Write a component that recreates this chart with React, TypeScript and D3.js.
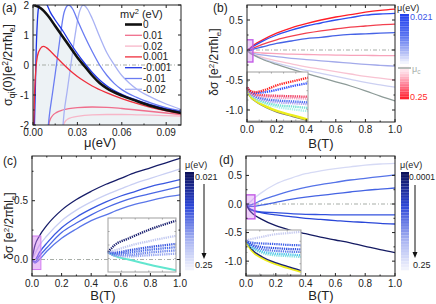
import React from 'react';
import * as d3 from 'd3';

const FONT = "'Liberation Sans', Arial, Helvetica, sans-serif";

// ---------- (a) sigma_qi(0) against mu, one curve per mv^2 ----------
const legendA = ['0', '0.01', '0.02', '0.001', '-0.001', '-0.01', '-0.02'];
const colorsA = ['#111111', '#f06e8c', '#f7b6c8', '#ef2f3c', '#1f35e6', '#6a7cf2', '#a9b2f4'];

const muZero = [0, 0.005, 0.01, 0.015, 0.02, 0.025, 0.03, 0.035, 0.04, 0.045, 0.05, 0.06, 0.07, 0.08, 0.09, 0.1];
const sigZero = [2, 1.9, 1.65, 1.3, 0.95, 0.6, 0.25, -0.05, -0.35, -0.6, -0.78, -1.02, -1.2, -1.37, -1.5, -1.6];

const muP01 = [0.0103, 0.011, 0.013, 0.016, 0.02, 0.03, 0.04, 0.05, 0.06, 0.07, 0.08, 0.09, 0.1];
const sigP01 = [-2.3, -1.9, -1.7, -1.58, -1.5, -1.42, -1.4, -1.41, -1.45, -1.5, -1.55, -1.6, -1.65];

const muP02 = [0.0203, 0.021, 0.023, 0.026, 0.03, 0.04, 0.05, 0.06, 0.07, 0.08, 0.09, 0.1];
const sigP02 = [-2.3, -1.95, -1.82, -1.75, -1.71, -1.66, -1.65, -1.65, -1.66, -1.67, -1.69, -1.7];

const muP001 = [0.0003, 0.001, 0.002, 0.003, 0.005, 0.007, 0.009, 0.012, 0.015, 0.02, 0.025, 0.03, 0.035, 0.04, 0.05, 0.06, 0.07, 0.08, 0.09, 0.1];
const sigP001 = [-2.3, -1.0, -0.1, 0.3, 0.55, 0.62, 0.58, 0.45, 0.3, 0.05, -0.18, -0.38, -0.55, -0.7, -0.93, -1.12, -1.28, -1.42, -1.53, -1.62];

const muM001 = [0.0008, 0.0015, 0.002, 0.003, 0.004, 0.006, 0.008, 0.01, 0.0115, 0.015, 0.02, 0.025, 0.03, 0.035, 0.04, 0.045, 0.05, 0.06, 0.07, 0.08, 0.09, 0.1];
const sigM001 = [-2.3, -1.0, 0.2, 1.5, 2.0, 2.25, 2.15, 1.95, 1.78, 1.5, 1.15, 0.75, 0.38, 0.05, -0.25, -0.5, -0.7, -0.98, -1.17, -1.33, -1.46, -1.56];

const muM01 = [0.0098, 0.011, 0.013, 0.015, 0.018, 0.021, 0.024, 0.027, 0.03, 0.035, 0.04, 0.045, 0.05, 0.055, 0.06, 0.07, 0.08, 0.09, 0.1];
const sigM01 = [-2.3, -1.7, -1.0, -0.3, 0.8, 1.75, 2.0, 1.85, 1.5, 0.95, 0.45, 0.0, -0.35, -0.62, -0.82, -1.08, -1.27, -1.42, -1.53];

const muM02 = [0.0198, 0.021, 0.023, 0.025, 0.028, 0.031, 0.034, 0.037, 0.04, 0.045, 0.05, 0.055, 0.06, 0.065, 0.07, 0.08, 0.09, 0.1];
const sigM02 = [-2.3, -1.6, -0.9, -0.2, 0.85, 1.7, 2.0, 1.85, 1.55, 0.95, 0.4, 0.0, -0.35, -0.6, -0.8, -1.08, -1.3, -1.48];

// ---------- (b),(c),(d) delta sigma against B ----------
const bGrid = [0, 0.02, 0.05, 0.1, 0.2, 0.3, 0.4, 0.5, 0.6, 0.7, 0.8, 0.9, 1.0];

const colorsB = ['#ff1e28', '#2f4ff0', '#f2404f', '#4663e6', '#f7a3bb', '#a3aaea', '#f8c3d2', '#ccd0f2', '#8d9b98'];
const dsB = [
  [0, 0.03, 0.09, 0.16, 0.28, 0.37, 0.44, 0.5, 0.55, 0.59, 0.63, 0.66, 0.68],
  [0, 0.02, 0.07, 0.14, 0.25, 0.33, 0.4, 0.45, 0.5, 0.54, 0.58, 0.6, 0.61],
  [0, 0.0, 0.04, 0.09, 0.17, 0.23, 0.28, 0.32, 0.35, 0.38, 0.4, 0.42, 0.43],
  [0, -0.01, 0.02, 0.05, 0.11, 0.15, 0.19, 0.21, 0.24, 0.26, 0.27, 0.28, 0.29],
  [0, -0.03, -0.04, -0.05, -0.06, -0.07, -0.075, -0.08, -0.085, -0.088, -0.09, -0.093, -0.095],
  [0, -0.04, -0.06, -0.08, -0.11, -0.14, -0.16, -0.18, -0.2, -0.22, -0.24, -0.255, -0.27],
  [0, -0.05, -0.08, -0.12, -0.18, -0.23, -0.28, -0.32, -0.36, -0.4, -0.44, -0.47, -0.5],
  [0, -0.05, -0.09, -0.14, -0.22, -0.28, -0.34, -0.39, -0.44, -0.49, -0.54, -0.58, -0.62],
  [0, -0.05, -0.09, -0.15, -0.24, -0.32, -0.39, -0.46, -0.53, -0.6, -0.68, -0.77, -0.85],
];

const colorsC = ['#c9cff3', '#5a76e9', '#4b68e5', '#3a58e0', '#161c68'];
const dsC = [
  [0, 0.05, 0.12, 0.2, 0.33, 0.42, 0.49, 0.55, 0.6, 0.65, 0.69, 0.73, 0.77],
  [0, -0.03, 0.0, 0.07, 0.18, 0.26, 0.33, 0.38, 0.43, 0.47, 0.5, 0.53, 0.55],
  [0, -0.02, 0.03, 0.1, 0.23, 0.31, 0.38, 0.44, 0.49, 0.53, 0.56, 0.59, 0.62],
  [0, 0.0, 0.06, 0.14, 0.27, 0.36, 0.43, 0.49, 0.54, 0.58, 0.62, 0.65, 0.68],
  [0, 0.12, 0.2, 0.29, 0.42, 0.51, 0.58, 0.64, 0.69, 0.74, 0.78, 0.82, 0.86],
];

const colorsD = ['#d6daf5', '#5573e8', '#4463e3', '#3352de', '#2a47d8', '#141a62'];
const dsD = [
  [0, 0.02, 0.09, 0.19, 0.35, 0.45, 0.53, 0.58, 0.62, 0.65, 0.68, 0.7, 0.71],
  [0, -0.02, 0.0, 0.06, 0.15, 0.23, 0.29, 0.34, 0.38, 0.42, 0.45, 0.48, 0.51],
  [0, -0.04, -0.04, -0.02, 0.03, 0.08, 0.12, 0.15, 0.18, 0.21, 0.24, 0.26, 0.28],
  [0, -0.07, -0.11, -0.14, -0.15, -0.17, -0.18, -0.185, -0.19, -0.19, -0.19, -0.19, -0.19],
  [0, -0.08, -0.12, -0.15, -0.19, -0.22, -0.25, -0.27, -0.29, -0.31, -0.32, -0.34, -0.35],
  [0, -0.1, -0.18, -0.26, -0.38, -0.46, -0.52, -0.58, -0.63, -0.68, -0.74, -0.8, -0.85],
];

// ---------- insets (relative units) ----------
const inX = [0, 0.05, 0.14, 0.3, 0.5, 0.75, 1];
const insetBColors = ['#a8f2e8', '#72e0d2', '#b4a6f0', '#5272f0', '#f2a2c2', '#f04062', '#3452ff', '#ff2222'];
const insetB = [
  [0.67, 0.53, 0.42, 0.32, 0.25, 0.2, 0.16],
  [0.67, 0.54, 0.44, 0.35, 0.29, 0.26, 0.23],
  [0.67, 0.55, 0.46, 0.39, 0.35, 0.33, 0.31],
  [0.67, 0.56, 0.48, 0.42, 0.39, 0.37, 0.35],
  [0.67, 0.57, 0.5, 0.47, 0.45, 0.44, 0.43],
  [0.67, 0.58, 0.52, 0.5, 0.49, 0.48, 0.47],
  [0.67, 0.59, 0.55, 0.57, 0.62, 0.7, 0.76],
  [0.67, 0.6, 0.57, 0.62, 0.72, 0.8, 0.88],
];
const insetBLow = [0.67, 0.5, 0.39, 0.27, 0.16, 0.07, -0.02];

const inXC = [0, 0.1, 0.3, 0.6, 1];
const insetCColors = ['#9aa9f0', '#7088ec', '#5070e8', '#3a58e0', '#c2c9f1', '#1a2070'];
const insetC = [
  [0.37, 0.3, 0.29, 0.31, 0.34],
  [0.37, 0.32, 0.32, 0.36, 0.4],
  [0.37, 0.34, 0.36, 0.41, 0.46],
  [0.37, 0.36, 0.4, 0.46, 0.52],
  [0.37, 0.4, 0.48, 0.57, 0.67],
  [0.37, 0.5, 0.62, 0.78, 0.95],
];
const insetCLow = [0.37, 0.3, 0.23, 0.14, 0.03];

const inXD = [0, 0.1, 0.3, 0.5, 0.75, 1];
const insetDColors = ['#84e0e2', '#52c6ea', '#5878e8', '#3050e0', '#4060e8', '#c8ccf0'];
const insetD = [
  [0.77, 0.62, 0.49, 0.44, 0.42, 0.4],
  [0.77, 0.63, 0.52, 0.48, 0.46, 0.44],
  [0.77, 0.66, 0.57, 0.54, 0.52, 0.51],
  [0.77, 0.68, 0.62, 0.6, 0.58, 0.57],
  [0.77, 0.72, 0.7, 0.69, 0.67, 0.66],
  [0.77, 0.8, 0.85, 0.9, 0.93, 0.96],
];
const insetDLow = [0.77, 0.58, 0.4, 0.29, 0.19, 0.1];

// ---------- scales ----------
const xA = d3.scaleLinear().domain([0, 0.1]).range([33, 181]);
const yA = d3.scaleLinear().domain([-2, 2]).range([125, 5]);
const xB = d3.scaleLinear().domain([0, 1]).range([247, 395]);
const yB = d3.scaleLinear().domain([-1.2, 0.75]).range([122, 5]);
const xC = d3.scaleLinear().domain([0, 1]).range([32, 180]);
const yC = d3.scaleLinear().domain([-0.14, 0.88]).range([276, 156]);
const xD = d3.scaleLinear().domain([0, 1]).range([246, 395]);
const yD = d3.scaleLinear().domain([-1.26, 0.84]).range([276, 156]);

const ixB = d3.scaleLinear().domain([0, 1]).range([247, 308]);
const iyB = d3.scaleLinear().domain([-0.05, 1]).range([121, 72]);
const ixC = d3.scaleLinear().domain([0, 1]).range([108, 176]);
const iyC = d3.scaleLinear().domain([0, 1]).range([272, 218]);
const ixD = d3.scaleLinear().domain([0, 1]).range([246, 301]);
const iyD = d3.scaleLinear().domain([0, 1]).range([275, 230]);

type S = d3.ScaleLinear<number, number>;

const path = (xs: number[], ys: number[], x: S, y: S) =>
  d3.line<number>().x((_, i) => x(xs[i])).y(d => y(d)).curve(d3.curveMonotoneX)(ys) || '';

function Frame({ x, y, xt, xm, yt, ym, xf, yf, color = '#222', len = 3, labels = true }: any) {
  const [l, r] = x.range();
  const [b, t] = y.range();
  return (
    <g>
      <rect x={l} y={t} width={r - l} height={b - t} fill="none" stroke={color} strokeWidth={1} />
      {xt.map((v: number) => (
        <g key={'xt' + v}>
          <line x1={x(v)} x2={x(v)} y1={b} y2={b - len} stroke={color} />
          <line x1={x(v)} x2={x(v)} y1={t} y2={t + len} stroke={color} />
        </g>
      ))}
      {xm.map((v: number) => (
        <g key={'xm' + v}>
          <line x1={x(v)} x2={x(v)} y1={b} y2={b - len / 2} stroke={color} />
          <line x1={x(v)} x2={x(v)} y1={t} y2={t + len / 2} stroke={color} />
        </g>
      ))}
      {yt.map((v: number) => (
        <g key={'yt' + v}>
          <line x1={l} x2={l + len} y1={y(v)} y2={y(v)} stroke={color} />
          <line x1={r} x2={r - len} y1={y(v)} y2={y(v)} stroke={color} />
        </g>
      ))}
      {ym.map((v: number) => (
        <g key={'ym' + v}>
          <line x1={l} x2={l + len / 2} y1={y(v)} y2={y(v)} stroke={color} />
          <line x1={r} x2={r - len / 2} y1={y(v)} y2={y(v)} stroke={color} />
        </g>
      ))}
      {labels && xt.map((v: number) => (
        <text key={'xl' + v} x={x(v)} y={b + 11} textAnchor="middle" fontSize={10} fill="#222">{xf(v)}</text>
      ))}
      {labels && yt.map((v: number) => (
        <text key={'yl' + v} x={l - 4} y={y(v) + 3.5} textAnchor="end" fontSize={10} fill="#222">{yf(v)}</text>
      ))}
    </g>
  );
}

function ColorBar({ x, y0, y1, w, scale }: any) {
  const n = 34;
  const h = (y1 - y0) / n;
  return (
    <g>
      {d3.range(n).map(i => (
        <rect key={i} x={x} y={y0 + i * h} width={w} height={h + 0.3} fill={scale((i + 0.5) / n)} />
      ))}
      {d3.range(1, n).map(i => (
        <line key={'s' + i} x1={x} x2={x + w} y1={y0 + i * h} y2={y0 + i * h} stroke="#fff" strokeOpacity={0.25} strokeWidth={0.6} />
      ))}
    </g>
  );
}

function Arrow({ x, y0, y1 }: any) {
  return (
    <g>
      <line x1={x} x2={x} y1={y0} y2={y1 - 4} stroke="#111" strokeWidth={1} />
      <polygon points={`${x - 2.5},${y1 - 6} ${x + 2.5},${y1 - 6} ${x},${y1}`} fill="#111" />
    </g>
  );
}

const zeroLine = (x: S, y: S) => (
  <line x1={x.range()[0]} x2={x.range()[1]} y1={y(0)} y2={y(0)} stroke="#a7ada7" strokeWidth={1} strokeDasharray="4,2,1,2" />
);

const bFmt = (v: number) => d3.format('.1f')(v).replace('−', '-');
const ticksB = [0, 0.2, 0.4, 0.6, 0.8, 1.0];
const minorB = [0.1, 0.3, 0.5, 0.7, 0.9];

function YLabel({ x, y, children, size = 12 }: any) {
  return (
    <text transform={`translate(${x},${y}) rotate(-90)`} textAnchor="middle" fontSize={size} fill="#222">{children}</text>
  );
}

const DeltaSigma = () => (
  <>
    δσ [e<tspan dy={-4} fontSize={8}>2</tspan><tspan dy={4}>/2πħl</tspan><tspan dy={3} fontSize={8}>e</tspan><tspan dy={-3}>]</tspan>
  </>
);

export default function App() {
  const seriesA = [
    { mu: muP02, s: sigP02, c: colorsA[2], w: 1.3 },
    { mu: muP01, s: sigP01, c: colorsA[1], w: 1.3 },
    { mu: muM02, s: sigM02, c: colorsA[6], w: 1.3 },
    { mu: muM01, s: sigM01, c: colorsA[5], w: 1.3 },
    { mu: muM001, s: sigM001, c: colorsA[4], w: 1.3 },
    { mu: muP001, s: sigP001, c: colorsA[3], w: 1.3 },
    { mu: muZero, s: sigZero, c: colorsA[0], w: 2.6 },
  ];
  const areaA = d3.area<number>()
    .x((_, i) => xA(muZero[i]))
    .y0(yA(-2))
    .y1(d => yA(d))
    .curve(d3.curveMonotoneX)(sigZero) || '';

  const cbB = d3.scaleLinear<string>().domain([0, 0.25, 0.45, 0.6, 0.7, 0.85, 1])
    .range(['#2040ee', '#5570f0', '#b0bbf6', '#ffffff', '#ffd2de', '#ff7088', '#ff1a26']);
  const cbBlue = d3.scaleLinear<string>().domain([0, 0.35, 0.7, 1])
    .range(['#0b0f55', '#2c46d8', '#a8b4f2', '#f4f5fd']);

  return (
    <svg width={436} height={304} style={{ position: 'fixed', left: 0, top: 0, background: '#fff' }} fontFamily={FONT}>
      <defs>
        <clipPath id="ca"><rect x={33} y={5} width={148} height={120} /></clipPath>
        <clipPath id="cb"><rect x={247} y={5} width={148} height={117} /></clipPath>
        <clipPath id="cc"><rect x={32} y={156} width={148} height={120} /></clipPath>
        <clipPath id="cd"><rect x={246} y={156} width={149} height={120} /></clipPath>
      </defs>

      {/* ---- (a) ---- */}
      <g clipPath="url(#ca)">
        <path d={areaA} fill="#edf2f5" />
        {zeroLine(xA, yA)}
        {seriesA.map((s, i) => (
          <path key={i} d={path(s.mu, s.s, xA, yA)} fill="none" stroke={s.c} strokeWidth={s.w} />
        ))}
      </g>
      <Frame x={xA} y={yA} xt={[0, 0.03, 0.06, 0.09]} xm={[0.015, 0.045, 0.075]} yt={[-2, -1, 0, 1, 2]} ym={[-1.5, -0.5, 0.5, 1.5]}
        xf={(v: number) => d3.format('.2f')(v)} yf={(v: number) => String(v)} />
      <text x={120} y={17.5} fontSize={11} fill="#222">mv<tspan dy={-4} fontSize={7.5}>2</tspan><tspan dy={4}> (eV)</tspan></text>
      {legendA.map((t, i) => (
        <g key={t}>
          <line x1={125} x2={142} y1={24.5 + i * 10.8} y2={24.5 + i * 10.8} stroke={colorsA[i]} strokeWidth={i === 0 ? 2.6 : 1.3} />
          <text x={143} y={28 + i * 10.8} fontSize={10} fill="#222">{t}</text>
        </g>
      ))}
      <text x={2} y={12} fontSize={12} fill="#222">(a)</text>
      <YLabel x={12} y={65} size={12.5}>
        σ<tspan dy={3} fontSize={8.5}>qi</tspan><tspan dy={-3}>(0)[e</tspan><tspan dy={-4} fontSize={8.5}>2</tspan><tspan dy={4}>/2πħl</tspan><tspan dy={3} fontSize={8.5}>e</tspan><tspan dy={-3}>]</tspan>
      </YLabel>
      <text x={100} y={147} textAnchor="middle" fontSize={13} fill="#222">μ(eV)</text>

      {/* ---- (b) ---- */}
      <g clipPath="url(#cb)">
        {zeroLine(xB, yB)}
        {dsB.map((s, i) => (
          <path key={i} d={path(bGrid, s, xB, yB)} fill="none" stroke={colorsB[i]} strokeWidth={1.3} />
        ))}
        <rect x={xB(-0.007)} y={yB(0.17)} width={xB(0.04) - xB(-0.007)} height={yB(-0.2) - yB(0.17)} fill="#d27af0" fillOpacity={0.35} stroke="#c35ce6" strokeWidth={1.4} />
      </g>
      <rect x={247} y={72} width={61} height={49} fill="#fff" />
      <g>
        <path d={path(inX, insetBLow.map(v => v - 0.025), ixB, iyB)} fill="none" stroke="#707070" strokeWidth={1.2} />
        <path d={path(inX, insetBLow, ixB, iyB)} fill="none" stroke="#eded1c" strokeWidth={2.4} />
        {insetB.map((s, i) => (
          <path key={i} d={path(inX, s, ixB, iyB)} fill="none" stroke={insetBColors[i]} strokeWidth={2.3} strokeDasharray="1.3,0.9" />
        ))}
      </g>
      <Frame x={ixB} y={iyB} xt={[0.2, 0.4, 0.6, 0.8]} xm={[]} yt={[0.2, 0.4, 0.6, 0.8]} ym={[]} color="#a0a0a0" len={1.5} labels={false} />
      <Frame x={xB} y={yB} xt={ticksB} xm={minorB} yt={[-1, -0.5, 0, 0.5]} ym={[-0.75, -0.25, 0.25]} xf={bFmt} yf={bFmt} />
      <ColorBar x={400} y0={14} y1={99} w={9} scale={cbB} />
      <line x1={398} x2={411} y1={68} y2={68} stroke="#a5aeab" strokeWidth={1.6} />
      <text x={397} y={11} fontSize={9} fill="#222">μ(eV)</text>
      <text x={410} y={20} fontSize={9} fill="#3a55e8">0.021</text>
      <text x={412} y={72} fontSize={9} fill="#a5aeab">μ<tspan dy={2} fontSize={6.5}>c</tspan></text>
      <text x={410} y={100} fontSize={9} fill="#ff2a2a">0.25</text>
      <text x={213} y={12} fontSize={12} fill="#222">(b)</text>
      <YLabel x={218} y={62}><DeltaSigma /></YLabel>
      <text x={321} y={148} textAnchor="middle" fontSize={13} fill="#222">B(T)</text>

      {/* ---- (c) ---- */}
      <g clipPath="url(#cc)">
        {dsC.map((s, i) => (
          <path key={i} d={path(bGrid, s, xC, yC)} fill="none" stroke={colorsC[i]} strokeWidth={1.3} />
        ))}
        <rect x={xC(0)} y={yC(0.2)} width={xC(0.06) - xC(0)} height={yC(-0.085) - yC(0.2)} fill="#d27af0" fillOpacity={0.45} stroke="#d27af0" strokeWidth={1} />
      </g>
      <rect x={108} y={218} width={68} height={54} fill="#fff" />
      {zeroLine(xC, yC)}
      <path d={path(inXC, insetCLow, ixC, iyC)} fill="none" stroke="#62e6cf" strokeWidth={2} />
      {insetC.map((s, i) => (
        <path key={i} d={path(inXC, s, ixC, iyC)} fill="none" stroke={insetCColors[i]} strokeWidth={2.3} strokeDasharray="1.3,0.9" />
      ))}
      <Frame x={ixC} y={iyC} xt={[0.2, 0.4, 0.6, 0.8]} xm={[]} yt={[0.25, 0.5, 0.75]} ym={[]} color="#a0a0a0" len={1.5} labels={false} />
      <Frame x={xC} y={yC} xt={ticksB} xm={minorB} yt={[0, 0.5]} ym={[0.25, 0.75]} xf={bFmt} yf={bFmt} />
      <ColorBar x={185} y0={172} y1={270} w={9} scale={cbBlue} />
      <Arrow x={204} y0={184} y1={259} />
      <text x={185} y={168} fontSize={9} fill="#222">μ(eV)</text>
      <text x={195} y={180} fontSize={9} fill="#222">0.021</text>
      <text x={195} y={268} fontSize={9} fill="#222">0.25</text>
      <text x={3} y={165} fontSize={12} fill="#222">(c)</text>
      <YLabel x={13} y={226}><DeltaSigma /></YLabel>
      <text x={103} y={300} textAnchor="middle" fontSize={13} fill="#222">B(T)</text>

      {/* ---- (d) ---- */}
      <g clipPath="url(#cd)">
        {zeroLine(xD, yD)}
        {dsD.map((s, i) => (
          <path key={i} d={path(bGrid, s, xD, yD)} fill="none" stroke={colorsD[i]} strokeWidth={1.3} />
        ))}
        <rect x={xD(0)} y={yD(0.16)} width={xD(0.06) - xD(0)} height={yD(-0.26) - yD(0.16)} fill="#d27af0" fillOpacity={0.35} stroke="#c35ce6" strokeWidth={1.4} />
      </g>
      <rect x={246} y={230} width={55} height={45} fill="#fff" />
      <path d={path(inXD, insetDLow.map(v => v - 0.03), ixD, iyD)} fill="none" stroke="#eded1c" strokeWidth={2.2} />
      <path d={path(inXD, insetDLow, ixD, iyD)} fill="none" stroke="#1c2270" strokeWidth={1.3} />
      {insetD.map((s, i) => (
        <path key={i} d={path(inXD, s, ixD, iyD)} fill="none" stroke={insetDColors[i]} strokeWidth={2.2} strokeDasharray="1.3,0.9" />
      ))}
      <Frame x={ixD} y={iyD} xt={[0.25, 0.5, 0.75]} xm={[]} yt={[0.25, 0.5, 0.75]} ym={[]} color="#a0a0a0" len={1.5} labels={false} />
      <Frame x={xD} y={yD} xt={ticksB} xm={minorB} yt={[-1, -0.5, 0, 0.5]} ym={[-0.75, -0.25, 0.25]} xf={bFmt} yf={bFmt} />
      <ColorBar x={401} y0={172} y1={270} w={8} scale={cbBlue} />
      <Arrow x={415} y0={185} y1={258} />
      <text x={400} y={168} fontSize={9} fill="#222">μ(eV)</text>
      <text x={409} y={180} fontSize={8.5} fill="#222">0.0001</text>
      <text x={413} y={268} fontSize={9} fill="#222">0.25</text>
      <text x={219} y={164} fontSize={12} fill="#222">(d)</text>
      <text x={321} y={300} textAnchor="middle" fontSize={13} fill="#222">B(T)</text>
    </svg>
  );
}
